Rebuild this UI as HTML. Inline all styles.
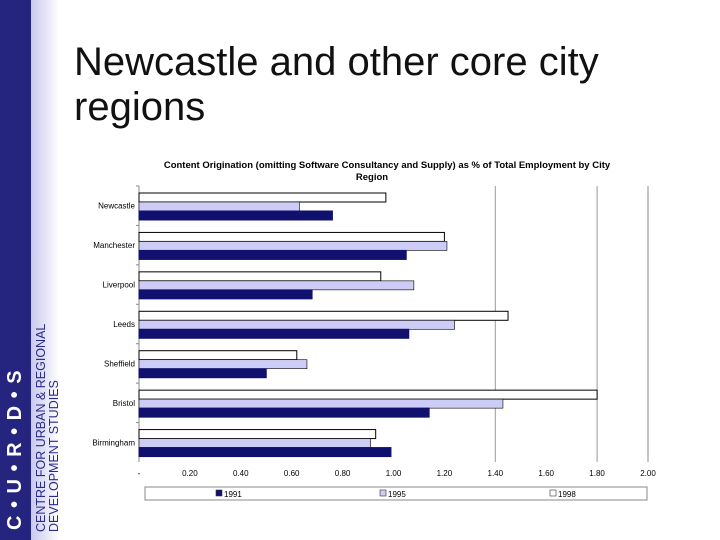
<!DOCTYPE html>
<html><head><meta charset="utf-8"><style>
body{margin:0;width:720px;height:540px;overflow:hidden;background:#fff;font-family:"Liberation Sans",sans-serif;position:relative}
#band{position:absolute;left:0;top:0;width:31px;height:540px;background:#25247e}
#band2{position:absolute;left:31px;top:0;width:28px;height:540px;background:linear-gradient(to right,#c8c8ee,#ffffff)}
#logo{position:absolute;left:5px;top:530px;transform:rotate(-90deg);transform-origin:0 0;color:#fff;font-weight:bold;font-size:20px;white-space:nowrap;letter-spacing:1px;line-height:20px}
#sub{position:absolute;left:35px;top:532px;transform:rotate(-90deg);transform-origin:0 0;color:#2a2a8a;font-size:12.5px;line-height:13px;white-space:nowrap}
#title{position:absolute;left:74px;top:40px;font-size:40px;line-height:45px;color:#111}
</style></head><body>
<div id="band"></div>
<div id="band2"></div>
<div id="logo">C • U • R • D • S</div>
<div id="sub">CENTRE FOR URBAN &amp; REGIONAL<br>DEVELOPMENT STUDIES</div>
<div id="title">Newcastle and other core city<br>regions</div>
<svg id="chart" width="720" height="540" style="position:absolute;left:0;top:0"></svg>
<script>
const categories=["Newcastle","Manchester","Liverpool","Leeds","Sheffield","Bristol","Birmingham"];
const v1998=[0.97,1.20,0.95,1.45,0.62,1.80,0.93];
const v1995=[0.63,1.21,1.08,1.24,0.66,1.43,0.91];
const v1991=[0.76,1.05,0.68,1.06,0.50,1.14,0.99];
const ticks=[0,0.2,0.4,0.6,0.8,1.0,1.2,1.4,1.6,1.8,2.0];
const tickLabels=["-","0.20","0.40","0.60","0.80","1.00","1.20","1.40","1.60","1.80","2.00"];
const ns="http://www.w3.org/2000/svg",svg=document.getElementById('chart');
const X0=139,X1=648,Y0=186,Y1=462;
const x=v=>X0+(v-0)/(2.0)*(X1-X0);
const gh=(Y1-Y0)/categories.length;
function mk(t,a,p){const e=document.createElementNS(ns,t);for(const k in a)e.setAttribute(k,a[k]);(p||svg).appendChild(e);return e;}
let t=mk('text',{x:387,y:168,'text-anchor':'middle','font-size':'9.5','font-weight':'bold',fill:'#000'});t.textContent="Content Origination (omitting Software Consultancy and Supply) as % of Total Employment by City";


t=mk('text',{x:372,y:180,'text-anchor':'middle','font-size':'9.5','font-weight':'bold',fill:'#000'});t.textContent="Region";


[1.4,1.8].forEach(g=>{const l=mk('line',{x1:x(g),x2:x(g),y1:Y0,y2:Y1,stroke:'#999','stroke-width':1});

});
const r=mk('line',{x1:X1,x2:X1,y1:Y0,y2:Y1,stroke:'#888'});


const ax=mk('line',{x1:X0,x2:X0,y1:Y0,y2:Y1,stroke:'#888'});


const series=[[v1998,'#ffffff','1998'],[v1995,'#ccccf6','1995'],[v1991,'#10106e','1991']];
categories.forEach((c,i)=>{
 const gy=Y0+i*gh;
 const tk=mk('line',{x1:X0-3,x2:X0,y1:gy,y2:gy,stroke:'#888'});
 
 
 series.forEach((s,j)=>{
  const b=mk('rect',{x:X0,y:gy+7+j*9,width:x(s[0][i])-X0,height:9,fill:s[1],stroke:j==2?'#10106e':'#000','stroke-width':j==1?0.6:1});
  
  
 });
 const l=mk('text',{x:X0-4,y:gy+gh/2+3,'text-anchor':'end','font-size':'8',fill:'#000'});l.textContent=c;
 
 
});
ticks.forEach((v,i)=>{const l=mk('text',{x:x(v),y:476,'text-anchor':'middle','font-size':'8',fill:'#000'});l.textContent=tickLabels[i];

});
const lb=mk('rect',{x:145,y:487,width:502,height:13,fill:'#fff',stroke:'#888'});


[[v1991,'#10106e','1991',216],[v1995,'#ccccf6','1995',380],[v1998,'#ffffff','1998',550]].forEach(s=>{
 const sw=mk('rect',{x:s[3],y:490,width:6,height:6,fill:s[1],stroke:'#333','stroke-width':0.6});
 
 
 const tx=mk('text',{x:s[3]+8,y:497,'font-size':'8',fill:'#000'});tx.textContent=s[2];
 
 
});
</script>
</body></html>
